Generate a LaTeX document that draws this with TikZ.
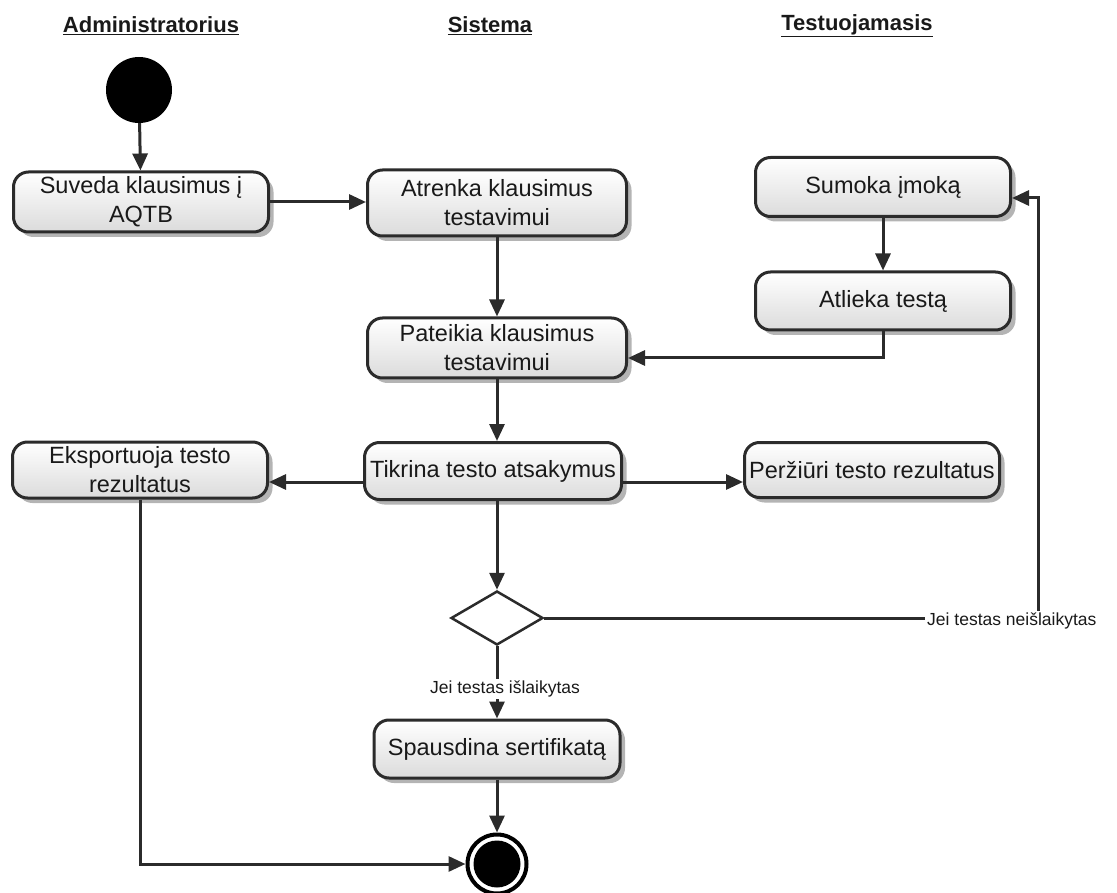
\documentclass[tikz,border=0pt]{standalone}
\usepackage{fontspec}
\setmainfont{Liberation Sans}
\usetikzlibrary{arrows.meta,shapes.geometric,shadows}
\definecolor{ink}{HTML}{2B2B2B}
\definecolor{shadecol}{HTML}{B4B4B4}
\begin{document}
\begin{tikzpicture}[x=1pt,y=-1pt,
  act/.style={rectangle, rounded corners=15pt, draw=ink, line width=3pt,
    top color=white, bottom color=black!14,
    drop shadow={shadow xshift=5pt, shadow yshift=-5pt, fill=shadecol, opacity=1},
    font=\fontsize{23.5}{29}\selectfont, text=black!90, align=center, inner sep=3pt},
  flow/.style={draw=ink, line width=3pt, -{Triangle[length=17pt,width=15pt]}},
  plain/.style={draw=ink, line width=3pt},
  guard/.style={font=\fontsize{17.5}{20}\selectfont, text=black!90, inner sep=2pt},
  head/.style={font=\bfseries\fontsize{22}{26}\selectfont, text=black!90}]
\useasboundingbox (0,0) rectangle (1117,893);

% swimlane headings
\node[head] (hA) at (151,26) {\underline{Administratorius}};
\node[head] (hS) at (490,26) {\underline{Sistema}};
\node[head] (hT) at (857,26) {\underline{Testuojamasis}};

% start
\node[circle, fill=black, minimum size=66pt, inner sep=0pt] (start) at (139,90) {};

% activities
\node[act, minimum width=255pt, minimum height=60pt] (suveda) at (141,202) {Suveda klausimus į\\AQTB};
\node[act, minimum width=259pt, minimum height=66pt] (atrenka) at (497,203) {Atrenka klausimus\\testavimui};
\node[act, minimum width=259pt, minimum height=60pt] (pateikia) at (497,348) {Pateikia klausimus\\testavimui};
\node[act, minimum width=255pt, minimum height=59pt] (sumoka) at (883,187) {Sumoka įmoką};
\node[act, minimum width=255pt, minimum height=58pt] (atlieka) at (883,301) {Atlieka testą};
\node[act, minimum width=257pt, minimum height=57pt] (tikrina) at (493,471) {Tikrina testo atsakymus};
\node[act, minimum width=255pt, minimum height=56pt] (eksport) at (140,470) {Eksportuoja testo\\rezultatus};
\node[act, minimum width=255pt, minimum height=55pt] (perz) at (872,470) {Peržiūri testo rezultatus};
\node[act, minimum width=246pt, minimum height=58pt] (spaus) at (497,749) {Spausdina sertifikatą};

% decision
\node[diamond, draw=ink, line width=2.5pt, fill=white, minimum width=92pt, minimum height=54pt, inner sep=0pt] (dec) at (497,618) {};
\node[guard] (pass) at (505,689) {Jei testas išlaikytas};
\node[guard, anchor=west] (fail) at (925,621) {Jei testas neišlaikytas};

% end
\node[circle, draw=black, line width=4pt, fill=white, minimum size=59pt, inner sep=0pt] (end) at (497,864) {};
\node[circle, fill=black, minimum size=47pt, inner sep=0pt] (endcore) at (end) {};

% helper rows / turning point
\coordinate (j) at (0,358);
\coordinate (r) at (0,482);
\coordinate (up) at (1038,198);

% flows
\draw[flow] (start) -- (suveda);
\draw[flow] (suveda.east) -- (suveda.east -| atrenka.west);
\draw[flow] (atrenka) -- (pateikia);
\draw[flow] (sumoka) -- (atlieka);
\draw[flow] (atlieka.south) |- (pateikia.east |- j);
\draw[flow] (pateikia.south) -- (pateikia.south |- tikrina.north);
\draw[flow] (tikrina.west |- r) -- (eksport.east |- r);
\draw[flow] (tikrina.east |- r) -- (perz.west |- r);
\draw[flow] (tikrina.south -| dec.north) -- (dec.north);
\draw[plain] (dec.east) -- (dec.east -| fail.west);
\draw[flow] (fail.north -| up) -- (up) -- (sumoka.east |- up);
\draw[plain] (dec.south) -- (dec.south |- pass.north);
\draw[flow] (pass.south -| dec.south) -- (spaus.north -| dec.south);
\draw[flow] (spaus.south -| end.north) -- (end.north);
\draw[flow] (eksport.south) |- (end.west);
\end{tikzpicture}
\end{document}
